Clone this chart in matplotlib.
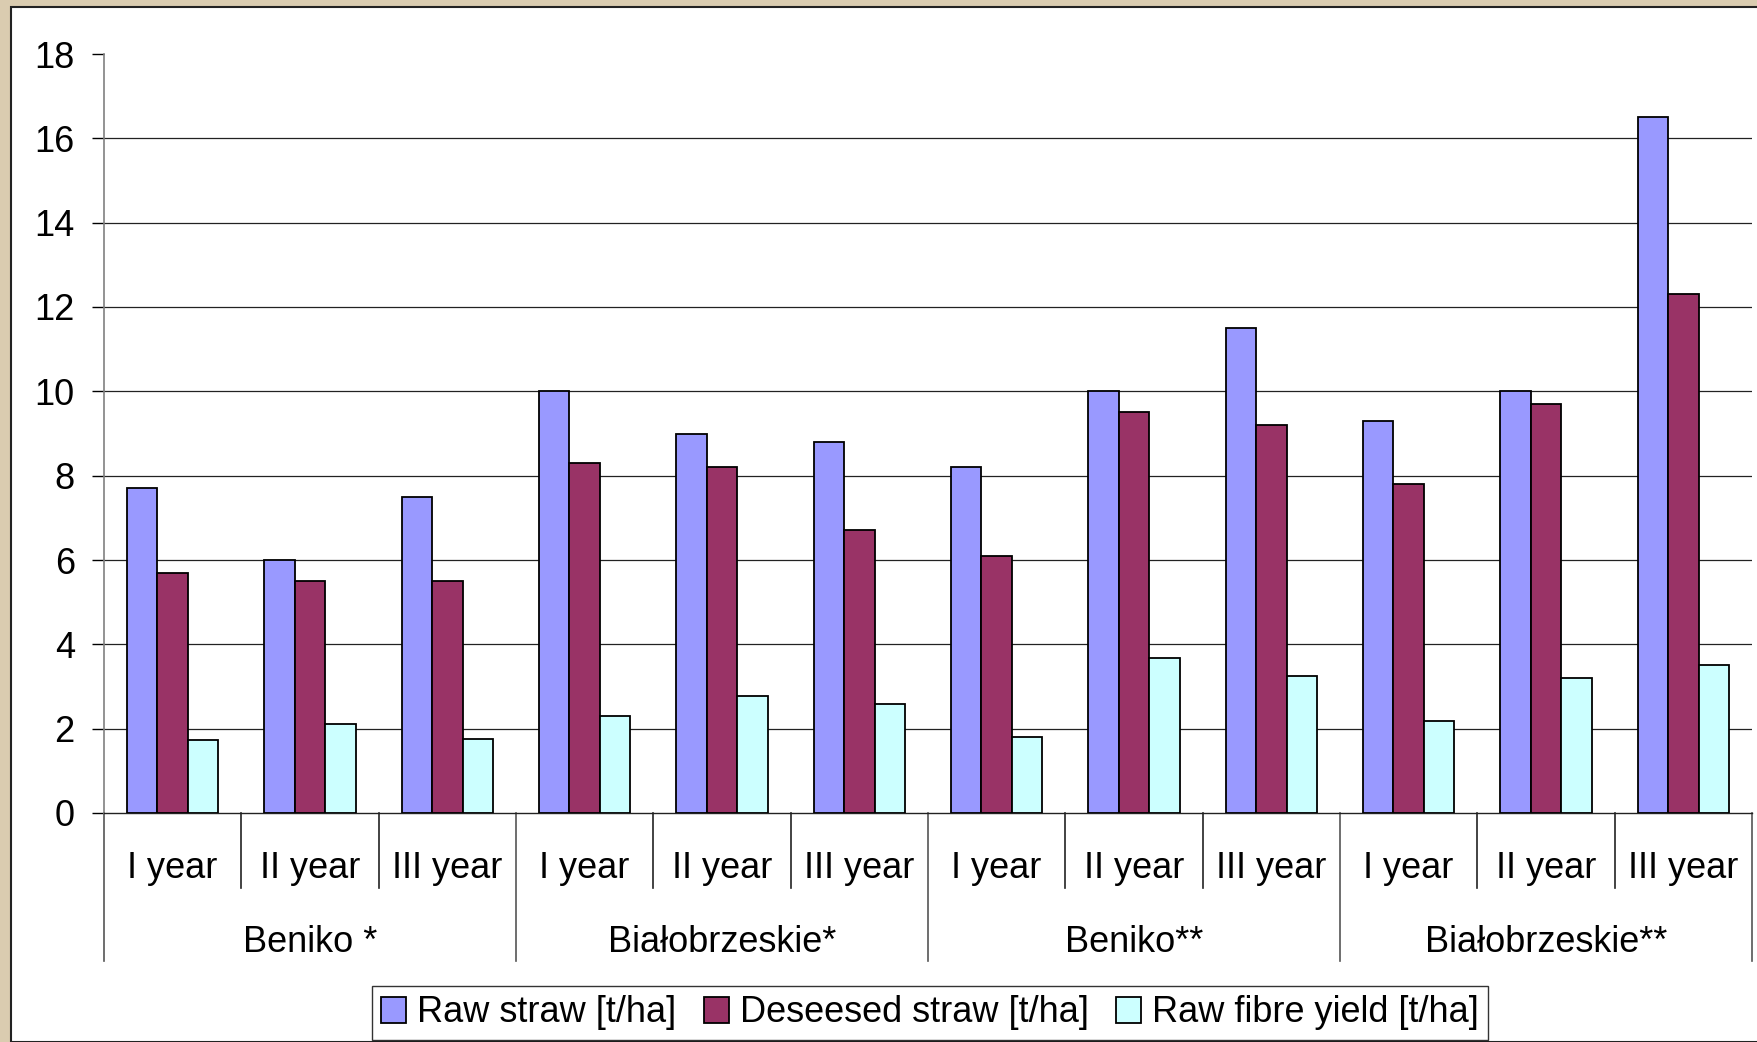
import matplotlib
matplotlib.use("Agg")
import matplotlib.pyplot as plt
from matplotlib.patches import Rectangle
from matplotlib.transforms import blended_transform_factory
import numpy as np

# data
groups = ["Beniko *", "Białobrzeskie*", "Beniko**", "Białobrzeskie**"]
years = ["I year", "II year", "III year"]
series_names = ["Raw straw [t/ha]", "Deseesed straw [t/ha]", "Raw fibre yield [t/ha]"]
raw_straw = [7.7, 6.0, 7.5, 10.0, 9.0, 8.8, 8.2, 10.0, 11.5, 9.3, 10.0, 16.5]
deseeded_straw = [5.7, 5.5, 5.5, 8.3, 8.2, 6.7, 6.1, 9.5, 9.2, 7.8, 9.7, 12.3]
raw_fibre = [1.72, 2.12, 1.75, 2.3, 2.78, 2.58, 1.8, 3.68, 3.25, 2.18, 3.2, 3.5]
y_ticks = [0, 2, 4, 6, 8, 10, 12, 14, 16, 18]

colors = ["#9999FF", "#993366", "#CCFFFF"]
W, H = 1758, 1042
FS = 26

plt.rcParams['font.family'] = ['Liberation Sans', 'DejaVu Sans']

fig = plt.figure(figsize=(W / 100, H / 100), dpi=100, facecolor="#DACCB0")

# white panel with dark border on top/left
panel = Rectangle((11 / W, 0), 1, 1 - 7 / H, transform=fig.transFigure,
                  facecolor="white", edgecolor="#222222", linewidth=1.5, zorder=-5)
fig.patches.append(panel)

left, right, top, bottom = 104, 1752, 54, 813
ax = fig.add_axes([left / W, 1 - bottom / H, (right - left) / W, (bottom - top) / H])
ax.set_facecolor("none")
ax.set_zorder(2)

n = len(raw_straw)
x = np.arange(n)
bw = 1 / 4.5  # Excel gap width 150%
for i, vals in enumerate([raw_straw, deseeded_straw, raw_fibre]):
    ax.bar(x + (i - 1) * bw, vals, width=bw, color=colors[i], edgecolor="black",
           linewidth=1.3, label=series_names[i], zorder=3)

ax.set_xlim(-0.5, n - 0.5)
ax.set_ylim(0, 18)
ax.set_yticks(y_ticks)
ax.tick_params(axis="y", direction="out", length=9, width=1, pad=12, labelsize=FS)
ax.set_xticks([])

# gridlines except the top one
for t in y_ticks[1:-1]:
    ax.axhline(t, color="#222222", linewidth=0.9, zorder=1)

for s in ["top", "right"]:
    ax.spines[s].set_visible(False)
ax.spines["left"].set_color("#808080")
ax.spines["left"].set_linewidth(1.2)
ax.spines["bottom"].set_color("#222222")
ax.spines["bottom"].set_linewidth(1.0)

# two-level category axis
h = bottom - top
trans = blended_transform_factory(ax.transData, ax.transAxes)
for k in range(n + 1):
    xb = k - 0.5
    if k % 3 == 0:
        y0 = -(961 - bottom) / h
        col = "#555555"
    else:
        y0 = -(888 - bottom) / h
        col = "#222222"
    ax.plot([xb, xb], [0, y0], transform=trans, color=col, linewidth=1.2, clip_on=False)

for k in range(n):
    ax.text(k, -(869 - bottom) / h, years[k % 3], transform=trans, ha="center",
            va="center", fontsize=FS)
for g, name in enumerate(groups):
    ax.text(g * 3 + 1, -(942 - bottom) / h, name, transform=trans, ha="center",
            va="center", fontsize=FS)

leg = fig.legend(loc="center", bbox_to_anchor=(930 / W, 1 - 1013 / H), ncol=3,
                 fontsize=26, frameon=True, fancybox=False, edgecolor="black",
                 handlelength=0.7, handleheight=0.7, handletextpad=0.3,
                 columnspacing=0.75, borderpad=0.25, borderaxespad=0)
leg.get_frame().set_linewidth(1.0)

fig.savefig("out.png", dpi=100, facecolor=fig.get_facecolor())
